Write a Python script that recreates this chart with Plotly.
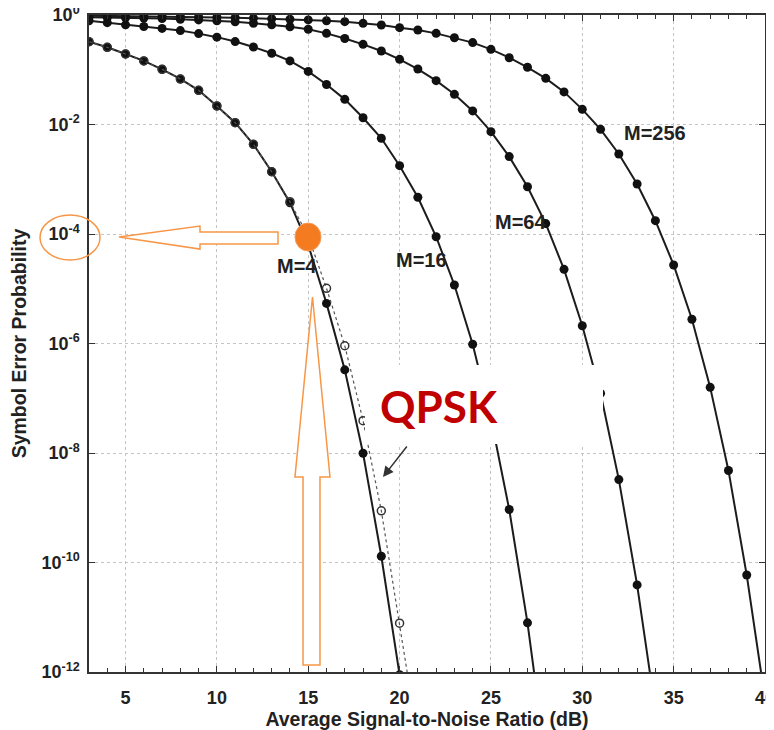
import plotly.graph_objects as go

# ---------------- data ----------------
snr_m4 = list(range(3, 21))
ser_m4 = [0.325, 0.257, 0.194, 0.145, 0.102, 0.0678, 0.0421, 0.0218, 0.0108,
          4.35e-3, 1.37e-3, 3.73e-4, 6.3e-5, 5.4e-6, 3.3e-7, 9.9e-9, 1.3e-10, 8.9e-13]

snr_qpsk = list(range(3, 22))
ser_qpsk = [0.325, 0.257, 0.194, 0.145, 0.102, 0.0678, 0.0421, 0.0218, 0.0108,
            4.35e-3, 1.37e-3, 3.9e-4, 9.0e-5, 1.02e-5, 9.1e-7, 3.9e-8, 8.8e-10,
            7.8e-12, 6.0e-14]

snr_m16 = list(range(3, 29))
ser_m16 = [0.787, 0.724, 0.661, 0.617, 0.569, 0.519, 0.457, 0.394, 0.327, 0.260,
           0.200, 0.145, 0.0933, 0.0537, 0.0288, 0.0133, 5.6e-3, 1.77e-3, 4.68e-4,
           8.9e-5, 1.17e-5, 9.7e-7, 4.3e-8, 9.3e-10, 7.9e-12, 2.5e-14]

snr_m64 = list(range(3, 35))
ser_m64 = [0.914, 0.904, 0.891, 0.877, 0.859, 0.838, 0.813, 0.785, 0.750, 0.708,
           0.661, 0.610, 0.550, 0.462, 0.372, 0.291, 0.220, 0.155, 0.103, 0.0632,
           0.0356, 0.0177, 7.4e-3, 2.59e-3, 7.31e-4, 1.55e-4, 2.26e-5, 2.11e-6,
           1.23e-7, 3.27e-9, 3.9e-11, 2.0e-13]

snr_m256 = list(range(3, 41))
ser_m256 = [0.973, 0.966, 0.959, 0.951, 0.942, 0.931, 0.918, 0.906, 0.891, 0.875,
            0.855, 0.836, 0.813, 0.787, 0.755, 0.705, 0.656, 0.587, 0.532, 0.462,
            0.385, 0.313, 0.236, 0.166, 0.111, 0.0697, 0.0394, 0.0189, 8.17e-3,
            2.89e-3, 8.18e-4, 1.75e-4, 2.72e-5, 2.77e-6, 1.58e-7, 4.8e-9, 5.9e-11,
            3.2e-13]

x_ticks = [5, 10, 15, 20, 25, 30, 35, 40]
y_tickvals = [1e-12, 1e-10, 1e-8, 1e-6, 1e-4, 1e-2, 1]
y_ticktext = ["10<sup>-12</sup>", "10<sup>-10</sup>", "10<sup>-8</sup>", "10<sup>-6</sup>",
              "10<sup>-4</sup>", "10<sup>-2</sup>", "10<sup>0</sup>"]

# ---------------- layout geometry ----------------
# page body has an 8px margin; plot area in page pixels is x 89..765, y 15..672
OFF = 8
W, H = 774 - OFF, 730 - OFF
PX0, PX1, PY0, PY1 = 89, 765, 15, 672
L, T = PX0 - OFF, PY0 - OFF
R, B = W - (PX1 - OFF), H - (PY1 - OFF)
PW, PH = PX1 - PX0, PY1 - PY0


def px(xp):
    return (xp - PX0) / PW


def py(yp):
    return (PY1 - yp) / PH


def path(points):
    s = "M " + " L ".join(f"{px(a):.4f},{py(b):.4f}" for a, b in points) + " Z"
    return s


LINE = "#1c1c1c"
FONT = "Liberation Sans, Arial, sans-serif"
ORANGE = "#F79646"

fig = go.Figure()
for xs, ys in [(snr_m4, ser_m4), (snr_m16, ser_m16), (snr_m64, ser_m64), (snr_m256, ser_m256)]:
    fig.add_trace(go.Scatter(x=xs, y=ys, mode="lines+markers",
                             line=dict(color=LINE, width=2),
                             marker=dict(symbol="circle", size=9, color="#111111"),
                             showlegend=False))
fig.add_trace(go.Scatter(x=snr_qpsk, y=ser_qpsk, mode="lines+markers",
                         line=dict(color="#555555", width=1.2, dash="dot"),
                         marker=dict(symbol="circle-open", size=8, color="#333333",
                                     line=dict(width=1.5)),
                         showlegend=False))

shapes = [
    # white box behind QPSK label
    dict(type="rect", xref="paper", yref="paper", x0=px(365), x1=px(603), y0=py(444), y1=py(365),
         fillcolor="white", line=dict(width=0), layer="above"),
    # orange dot
    dict(type="circle", xref="paper", yref="paper", xsizemode="pixel", ysizemode="pixel",
         xanchor=px(308), yanchor=py(237), x0=-13, x1=13, y0=-14, y1=14,
         fillcolor="#F47B20", line=dict(color="#F59A5A", width=1), layer="above"),
    # ellipse around 10^-4
    dict(type="circle", xref="paper", yref="paper", x0=px(40), x1=px(100), y0=py(260), y1=py(215),
         line=dict(color=ORANGE, width=1.5), layer="above"),
    # left arrow
    dict(type="path", xref="paper", yref="paper",
         path=path([(119, 237), (200, 226), (200, 232), (278, 232), (278, 244), (200, 244), (200, 249)]),
         line=dict(color=ORANGE, width=1.5), fillcolor="white", layer="above"),
    # up arrow
    dict(type="path", xref="paper", yref="paper",
         path=path([(312.5, 297), (330, 477), (320, 477), (320, 665), (303, 665), (303, 477), (295, 477)]),
         line=dict(color=ORANGE, width=1.5), fillcolor="white", layer="above"),
]

annotations = []
for txt, cx, cy in [("M=256", 655, 133), ("M=64", 520, 222), ("M=16", 421, 260), ("M=4", 297, 266)]:
    annotations.append(dict(text=txt, xref="paper", yref="paper", x=px(cx), y=py(cy),
                            showarrow=False, xanchor="center", yanchor="middle",
                            font=dict(family=FONT, size=20, color="#222222", weight="bold")))
annotations.append(dict(text="QPSK", xref="paper", yref="paper", x=px(439), y=py(406),
                        showarrow=False, xanchor="center", yanchor="middle",
                        font=dict(family="Lato, Open Sans, sans-serif", size=44, color="#C00000",
                                  weight="bold")))
annotations.append(dict(text="", xref="paper", yref="paper", x=px(383), y=py(477),
                        ax=25, ay=-32, showarrow=True, arrowhead=2, arrowsize=1.4,
                        arrowwidth=1.5, arrowcolor="#333333"))

fig.update_layout(
    width=W, height=H,
    margin=dict(l=L, r=R, t=T, b=B, autoexpand=False),
    paper_bgcolor="white", plot_bgcolor="white",
    shapes=shapes, annotations=annotations,
    font=dict(family=FONT, color="#222222"),
)
fig.update_xaxes(
    range=[3, 40], tickvals=x_ticks, ticks="inside", ticklen=6, tickcolor="#333333",
    showline=True, linecolor="#333333", linewidth=1.5, mirror="ticks",
    showgrid=True, gridcolor="#c4c4c4", griddash="dot", gridwidth=1,
    zeroline=False, automargin=False, ticklabelstandoff=9, ticklabeloverflow="allow",
    minor=dict(dtick=1, ticks="inside", ticklen=4, tickcolor="#333333", showgrid=False),
    tickfont=dict(family=FONT, size=18, color="#222222", weight="bold"),
    title=dict(text="Average Signal-to-Noise Ratio (dB)", standoff=4,
               font=dict(family=FONT, size=19.5, color="#222222", weight="bold")),
)
fig.update_yaxes(
    type="log", range=[-12, 0], tickvals=y_tickvals, ticktext=y_ticktext,
    ticks="inside", ticklen=6, tickcolor="#333333",
    showline=True, linecolor="#333333", linewidth=1.5, mirror="ticks",
    showgrid=True, gridcolor="#c4c4c4", griddash="dot", gridwidth=1,
    zeroline=False, automargin=False, ticklabelstandoff=4, ticklabeloverflow="allow",
    tickfont=dict(family=FONT, size=18, color="#222222", weight="bold"),
    title=dict(text="Symbol Error Probability", standoff=10,
               font=dict(family=FONT, size=19.5, color="#222222", weight="bold")),
)

fig.write_html("out.html")
